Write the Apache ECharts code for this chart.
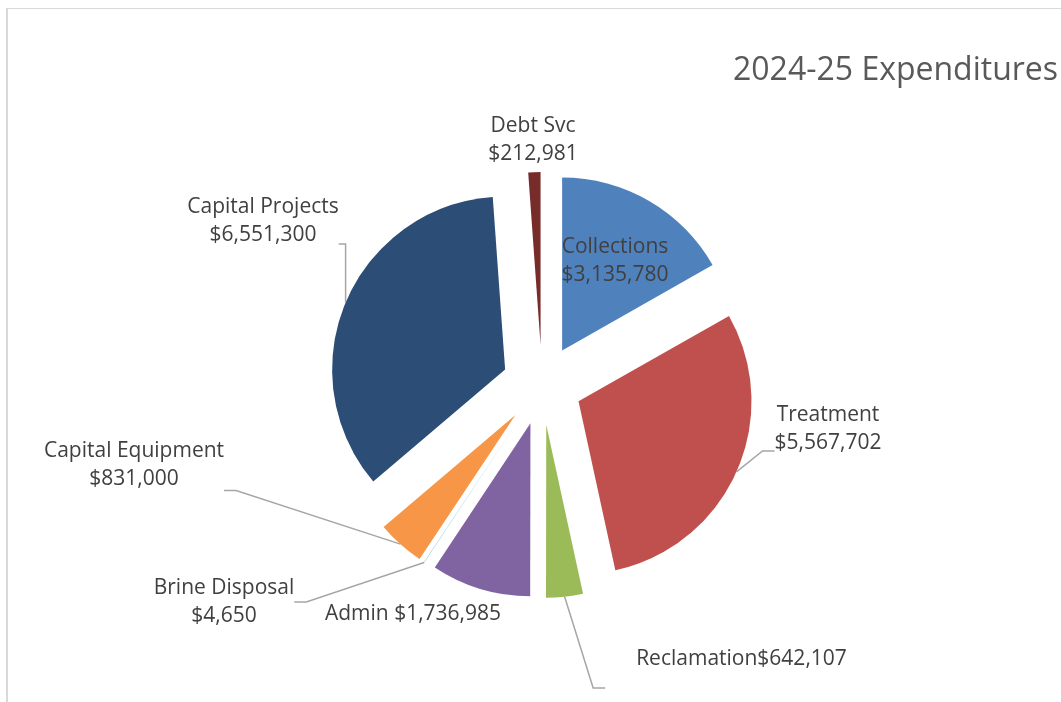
<!DOCTYPE html>
<html>
<head>
<meta charset="utf-8">
<script src="https://cdn.jsdelivr.net/npm/echarts@6/dist/echarts.min.js"></script>
<style>
  html, body { margin: 0; padding: 0; background: #ffffff; overflow: hidden; }
  #frame { position: absolute; left: 6px; top: 8px; width: 1100px; height: 720px;
           border-left: 2px solid #d9d9d9; border-top: 1px solid #d9d9d9; box-sizing: border-box; }
  #chart { position: absolute; left: 0; top: 0; width: 1061px; height: 702px; }
</style>
</head>
<body>
<div id="frame"></div>
<div id="chart"></div>
<script>
// Budget categories, clockwise from twelve o'clock
const categories = ['Collections', 'Treatment', 'Reclamation', 'Admin',
                    'Brine Disposal', 'Capital Equipment', 'Capital Projects', 'Debt Svc'];
// Expenditure per category, dollars
const amounts = [3135780, 5567702, 642107, 1736985, 4650, 831000, 6551300, 212981];
// Text placed between a category name and its amount
const nameAmountJoin = ['\n', '\n', '', ' ', '\n', '\n', '\n', '\n'];
const chartTitle = '2024-25 Expenditures';

const sliceColors = ['#4F81BD', '#C0504D', '#9BBB59', '#8064A2',
                     '#4BACC6', '#F79646', '#2C4D75', '#772C2A'];

// Pie geometry
const pieCenter = [542, 385];
const pieRadius = 173;
const explode = 40;

// Label placement: [centre x, top y, bottom padding, left padding];
// the padding moves the point where the leader line attaches
const labelSpots = {
  'Collections':       [615, 233, 0, 0],
  'Treatment':         [828, 401, 44, 0],
  'Reclamation':       [726, 645, 58, 31],
  'Admin':             [413, 600, 0, 0],
  'Brine Disposal':    [224, 574, 0, 0],
  'Capital Equipment': [134, 437, 51, 0],
  'Capital Projects':  [263, 193, 46, 0],
  'Debt Svc':          [533, 112, 0, 0]
};
const insideLabels = ['Collections'];
const noLeader = ['Collections', 'Admin', 'Debt Svc'];

const money = v => '$' + v.toLocaleString('en-US');
const total = amounts.reduce((a, b) => a + b, 0);

// One pie per slice: every series holds all values so the angles line up,
// but only its own slice is painted, pushed out along its bisector.
let running = 0;
const series = categories.map((name, k) => {
  const mid = (running + amounts[k] / 2) / total * Math.PI * 2;
  running += amounts[k];
  const spot = labelSpots[name];
  return {
    type: 'pie',
    name: name,
    center: [pieCenter[0] + explode * Math.sin(mid), pieCenter[1] - explode * Math.cos(mid)],
    radius: pieRadius,
    startAngle: 90,
    clockwise: true,
    avoidLabelOverlap: false,
    emphasis: { disabled: true },
    itemStyle: { borderWidth: 0 },
    label: {
      show: true,
      position: insideLabels.includes(name) ? 'inside' : 'outside',
      fontFamily: 'Open Sans',
      fontSize: 21,
      lineHeight: 28,
      color: '#404040',
      padding: [0, 0, spot[2], spot[3]],
      formatter: p => p.name + nameAmountJoin[p.dataIndex] + money(p.value)
    },
    labelLine: {
      show: !noLeader.includes(name),
      length: 10,
      length2: 12,
      smooth: false,
      lineStyle: { color: '#A6A6A6', width: 1.5 }
    },
    labelLayout: function () {
      return { x: spot[0], y: spot[1], align: 'center', verticalAlign: 'top' };
    },
    data: categories.map((n, i) => i === k
      ? { name: n, value: amounts[i], itemStyle: { color: sliceColors[i] } }
      : { name: n, value: amounts[i], itemStyle: { color: 'rgba(0,0,0,0)' },
          label: { show: false }, labelLine: { show: false } })
  };
});

const chart = echarts.init(document.getElementById('chart'), null, { renderer: 'canvas' });
chart.setOption({
  animation: false,
  backgroundColor: 'transparent',
  title: {
    text: chartTitle,
    left: 733,
    top: 51,
    padding: 0,
    textStyle: {
      fontFamily: 'Open Sans',
      fontSize: 32,
      fontWeight: 'normal',
      color: '#595959',
      lineHeight: 40
    }
  },
  series: series
});
</script>
</body>
</html>
